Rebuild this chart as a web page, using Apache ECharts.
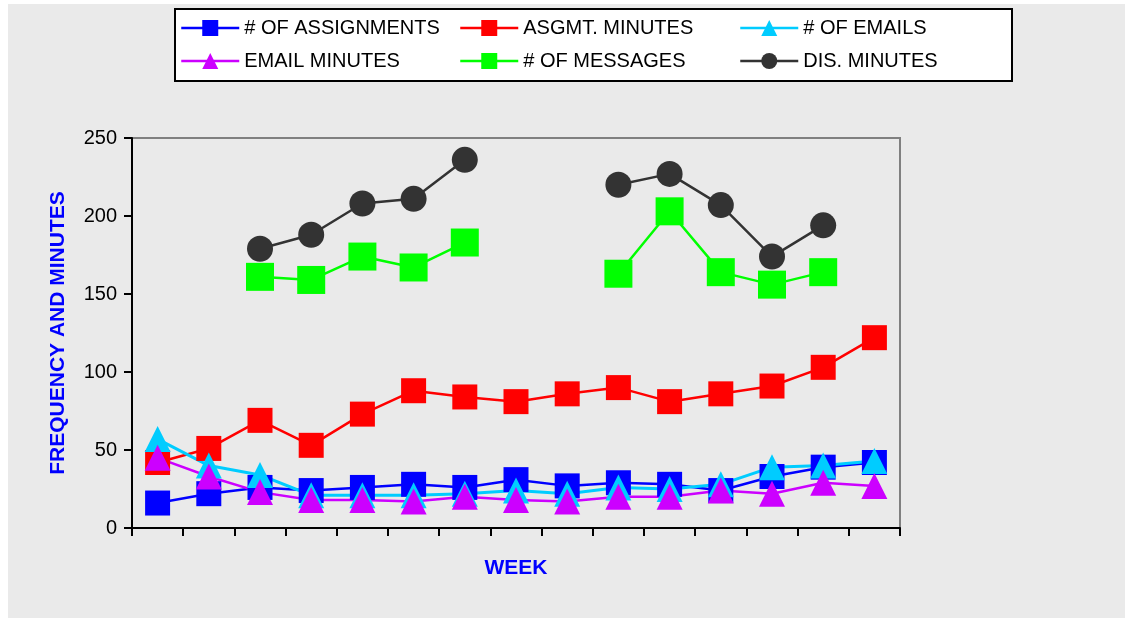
<!DOCTYPE html>
<html>
<head>
<meta charset="utf-8">
<script src="https://cdn.jsdelivr.net/npm/echarts@6/dist/echarts.min.js"></script>
<style>
  html, body { margin: 0; padding: 0; background: #fff; }
  #chart { width: 1125px; height: 618px; }
</style>
</head>
<body>
<div id="chart"></div>
<script>
// weeks (no labels shown on the axis)
const weeks = ['1','2','3','4','5','6','7','8','9','10','11','12','13','14','15'];

const assignments  = [16, 22, 26, 24, 26, 28, 26, 31, 27, 29, 28, 24, 33, 39, 42];
const asgmtMinutes = [42, 51, 69, 53, 73, 88, 84, 81, 86, 90, 81, 86, 91, 103, 122];
const emails       = [57, 40, 34, 21, 21, 21, 22, 24, 22, 26, 25, 28, 39, 40, 43];
const emailMinutes = [45, 33, 23, 18, 18, 17, 20, 18, 17, 20, 20, 24, 22, 29, 27];
const messages     = [null, null, 161, 159, 174, 167, 183, null, null, 163, 203, 164, 156, 164, null];
const disMinutes   = [null, null, 179, 188, 208, 211, 236, null, null, 220, 227, 207, 174, 194, null];

const yTicks = [0, 50, 100, 150, 200, 250];

const FONT = 'Liberation Sans, Arial, sans-serif';

// 折线通用设置
function lineSeries(name, data, color, symbol, size, width) {
    return {
        name: name,
        type: 'line',
        data: data,
        symbol: symbol,
        symbolSize: size,
        showAllSymbol: true,
        connectNulls: false,
        lineStyle: { color: color, width: width || 2.5 },
        itemStyle: { color: color, opacity: 1 },
        emphasis: { disabled: true },
        animation: false
    };
}

const legendText = { fontFamily: FONT, fontSize: 20, color: '#000' };
function legendCol(left, names) {
    return {
        orient: 'vertical',
        left: left,
        top: 18,
        padding: 0,
        itemWidth: 58,
        itemHeight: 20,
        itemGap: 13,
        selectedMode: false,
        lineStyle: { width: 2.5 },
        textStyle: legendText,
        data: names
    };
}

const chart = echarts.init(document.getElementById('chart'));

chart.setOption({
    backgroundColor: '#ffffff',
    animation: false,
    graphic: [
        {   // textured grey page area
            type: 'rect', z: -10,
            shape: { x: 8, y: 4, width: 1117, height: 614 },
            style: { fill: '#eaeaea' }
        },
        {   // legend box
            type: 'rect', z: 1,
            shape: { x: 175, y: 9, width: 837, height: 72 },
            style: { fill: '#ffffff', stroke: '#000000', lineWidth: 2 }
        }
    ],
    legend: [
        legendCol(180, ['# OF ASSIGNMENTS', 'EMAIL MINUTES']),
        legendCol(459, ['ASGMT. MINUTES', '# OF MESSAGES']),
        legendCol(739, ['# OF EMAILS', 'DIS. MINUTES'])
    ],
    grid: {
        left: 132, top: 138, right: 225, bottom: 90,
        show: true,
        borderColor: '#808080',
        borderWidth: 2,
        backgroundColor: 'transparent'
    },
    xAxis: {
        type: 'category',
        data: weeks,
        boundaryGap: true,
        name: 'WEEK',
        nameLocation: 'middle',
        nameGap: 30,
        nameTextStyle: { fontFamily: FONT, fontSize: 21, fontWeight: 'bold', color: '#0000ff' },
        axisLine: { show: true, lineStyle: { color: '#000', width: 2 } },
        axisTick: { show: true, length: 8, lineStyle: { color: '#000', width: 2 } },
        axisLabel: { show: false },
        splitLine: { show: false }
    },
    yAxis: {
        type: 'value',
        min: yTicks[0],
        max: yTicks[yTicks.length - 1],
        interval: 50,
        name: 'FREQUENCY AND MINUTES',
        nameLocation: 'middle',
        nameGap: 63,
        nameTextStyle: { fontFamily: FONT, fontSize: 21, fontWeight: 'bold', color: '#0000ff' },
        axisLine: { show: true, lineStyle: { color: '#000', width: 2 } },
        axisTick: { show: true, length: 8, lineStyle: { color: '#000', width: 2 } },
        axisLabel: { fontFamily: FONT, fontSize: 20, color: '#000', margin: 15 },
        splitLine: { show: false }
    },
    series: [
        lineSeries('# OF ASSIGNMENTS', assignments, '#0000ff', 'rect', 25),
        lineSeries('ASGMT. MINUTES', asgmtMinutes, '#ff0000', 'rect', 25),
        lineSeries('# OF EMAILS', emails, '#00ccff', 'triangle', 26, 3),
        lineSeries('EMAIL MINUTES', emailMinutes, '#cc00ff', 'triangle', 26),
        lineSeries('# OF MESSAGES', messages, '#00ff00', 'rect', 28),
        lineSeries('DIS. MINUTES', disMinutes, '#333333', 'circle', 26)
    ]
});
</script>
</body>
</html>
